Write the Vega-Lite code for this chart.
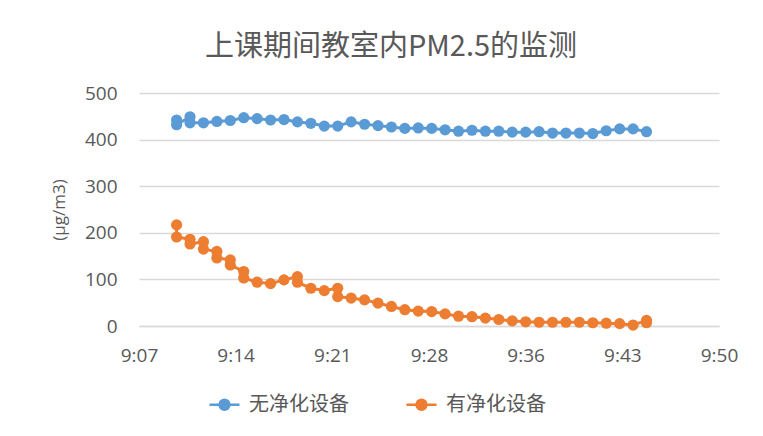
{
  "$schema": "https://vega.github.io/schema/vega-lite/v6.json",
  "width": 580,
  "height": 233,
  "autosize": {"type": "none"},
  "padding": {"left": 139, "top": 93, "right": 44, "bottom": 110},
  "background": "white",
  "title": {
    "text": "上课期间教室内PM2.5的监测",
    "font": "Noto Sans CJK SC",
    "fontSize": 29,
    "fontWeight": "normal",
    "color": "#595959",
    "anchor": "middle",
    "dx": -38,
    "offset": 22
  },
  "data": {
    "values": [
      {"i": 1, "s": "无净化设备", "t": "2020-01-01T09:10:00", "v": 442},
      {"i": 2, "s": "无净化设备", "t": "2020-01-01T09:10:00", "v": 432},
      {"i": 3, "s": "无净化设备", "t": "2020-01-01T09:11:00", "v": 449},
      {"i": 4, "s": "无净化设备", "t": "2020-01-01T09:11:00", "v": 436},
      {"i": 5, "s": "无净化设备", "t": "2020-01-01T09:12:00", "v": 436},
      {"i": 6, "s": "无净化设备", "t": "2020-01-01T09:13:00", "v": 439},
      {"i": 7, "s": "无净化设备", "t": "2020-01-01T09:14:00", "v": 441},
      {"i": 8, "s": "无净化设备", "t": "2020-01-01T09:15:00", "v": 447},
      {"i": 9, "s": "无净化设备", "t": "2020-01-01T09:16:00", "v": 445},
      {"i": 10, "s": "无净化设备", "t": "2020-01-01T09:17:00", "v": 442},
      {"i": 11, "s": "无净化设备", "t": "2020-01-01T09:18:00", "v": 443},
      {"i": 12, "s": "无净化设备", "t": "2020-01-01T09:19:00", "v": 438},
      {"i": 13, "s": "无净化设备", "t": "2020-01-01T09:20:00", "v": 435},
      {"i": 14, "s": "无净化设备", "t": "2020-01-01T09:21:00", "v": 429},
      {"i": 15, "s": "无净化设备", "t": "2020-01-01T09:22:00", "v": 429},
      {"i": 16, "s": "无净化设备", "t": "2020-01-01T09:23:00", "v": 438},
      {"i": 17, "s": "无净化设备", "t": "2020-01-01T09:24:00", "v": 433},
      {"i": 18, "s": "无净化设备", "t": "2020-01-01T09:25:00", "v": 430},
      {"i": 19, "s": "无净化设备", "t": "2020-01-01T09:26:00", "v": 427},
      {"i": 20, "s": "无净化设备", "t": "2020-01-01T09:27:00", "v": 424},
      {"i": 21, "s": "无净化设备", "t": "2020-01-01T09:28:00", "v": 425},
      {"i": 22, "s": "无净化设备", "t": "2020-01-01T09:29:00", "v": 424},
      {"i": 23, "s": "无净化设备", "t": "2020-01-01T09:30:00", "v": 421},
      {"i": 24, "s": "无净化设备", "t": "2020-01-01T09:31:00", "v": 418},
      {"i": 25, "s": "无净化设备", "t": "2020-01-01T09:32:00", "v": 420},
      {"i": 26, "s": "无净化设备", "t": "2020-01-01T09:33:00", "v": 418},
      {"i": 27, "s": "无净化设备", "t": "2020-01-01T09:34:00", "v": 418},
      {"i": 28, "s": "无净化设备", "t": "2020-01-01T09:35:00", "v": 416},
      {"i": 29, "s": "无净化设备", "t": "2020-01-01T09:36:00", "v": 416},
      {"i": 30, "s": "无净化设备", "t": "2020-01-01T09:37:00", "v": 417},
      {"i": 31, "s": "无净化设备", "t": "2020-01-01T09:38:00", "v": 414},
      {"i": 32, "s": "无净化设备", "t": "2020-01-01T09:39:00", "v": 414},
      {"i": 33, "s": "无净化设备", "t": "2020-01-01T09:40:00", "v": 414},
      {"i": 34, "s": "无净化设备", "t": "2020-01-01T09:41:00", "v": 413},
      {"i": 35, "s": "无净化设备", "t": "2020-01-01T09:42:00", "v": 419},
      {"i": 36, "s": "无净化设备", "t": "2020-01-01T09:43:00", "v": 423},
      {"i": 37, "s": "无净化设备", "t": "2020-01-01T09:44:00", "v": 423},
      {"i": 38, "s": "无净化设备", "t": "2020-01-01T09:45:00", "v": 417},
      {"i": 1, "s": "有净化设备", "t": "2020-01-01T09:10:00", "v": 217},
      {"i": 2, "s": "有净化设备", "t": "2020-01-01T09:10:00", "v": 191},
      {"i": 3, "s": "有净化设备", "t": "2020-01-01T09:11:00", "v": 186},
      {"i": 4, "s": "有净化设备", "t": "2020-01-01T09:11:00", "v": 176},
      {"i": 5, "s": "有净化设备", "t": "2020-01-01T09:12:00", "v": 181},
      {"i": 6, "s": "有净化设备", "t": "2020-01-01T09:12:00", "v": 165},
      {"i": 7, "s": "有净化设备", "t": "2020-01-01T09:13:00", "v": 160},
      {"i": 8, "s": "有净化设备", "t": "2020-01-01T09:13:00", "v": 146},
      {"i": 9, "s": "有净化设备", "t": "2020-01-01T09:14:00", "v": 142},
      {"i": 10, "s": "有净化设备", "t": "2020-01-01T09:14:00", "v": 131},
      {"i": 11, "s": "有净化设备", "t": "2020-01-01T09:15:00", "v": 117},
      {"i": 12, "s": "有净化设备", "t": "2020-01-01T09:15:00", "v": 103},
      {"i": 13, "s": "有净化设备", "t": "2020-01-01T09:16:00", "v": 94},
      {"i": 14, "s": "有净化设备", "t": "2020-01-01T09:17:00", "v": 91},
      {"i": 15, "s": "有净化设备", "t": "2020-01-01T09:18:00", "v": 99},
      {"i": 16, "s": "有净化设备", "t": "2020-01-01T09:19:00", "v": 106},
      {"i": 17, "s": "有净化设备", "t": "2020-01-01T09:19:00", "v": 94},
      {"i": 18, "s": "有净化设备", "t": "2020-01-01T09:20:00", "v": 81},
      {"i": 19, "s": "有净化设备", "t": "2020-01-01T09:21:00", "v": 76},
      {"i": 20, "s": "有净化设备", "t": "2020-01-01T09:22:00", "v": 81},
      {"i": 21, "s": "有净化设备", "t": "2020-01-01T09:22:00", "v": 63},
      {"i": 22, "s": "有净化设备", "t": "2020-01-01T09:23:00", "v": 60},
      {"i": 23, "s": "有净化设备", "t": "2020-01-01T09:24:00", "v": 56},
      {"i": 24, "s": "有净化设备", "t": "2020-01-01T09:25:00", "v": 49},
      {"i": 25, "s": "有净化设备", "t": "2020-01-01T09:26:00", "v": 42},
      {"i": 26, "s": "有净化设备", "t": "2020-01-01T09:27:00", "v": 35},
      {"i": 27, "s": "有净化设备", "t": "2020-01-01T09:28:00", "v": 32},
      {"i": 28, "s": "有净化设备", "t": "2020-01-01T09:29:00", "v": 31},
      {"i": 29, "s": "有净化设备", "t": "2020-01-01T09:30:00", "v": 26},
      {"i": 30, "s": "有净化设备", "t": "2020-01-01T09:31:00", "v": 21},
      {"i": 31, "s": "有净化设备", "t": "2020-01-01T09:32:00", "v": 20},
      {"i": 32, "s": "有净化设备", "t": "2020-01-01T09:33:00", "v": 17},
      {"i": 33, "s": "有净化设备", "t": "2020-01-01T09:34:00", "v": 14},
      {"i": 34, "s": "有净化设备", "t": "2020-01-01T09:35:00", "v": 11},
      {"i": 35, "s": "有净化设备", "t": "2020-01-01T09:36:00", "v": 9},
      {"i": 36, "s": "有净化设备", "t": "2020-01-01T09:37:00", "v": 8},
      {"i": 37, "s": "有净化设备", "t": "2020-01-01T09:38:00", "v": 8},
      {"i": 38, "s": "有净化设备", "t": "2020-01-01T09:39:00", "v": 8},
      {"i": 39, "s": "有净化设备", "t": "2020-01-01T09:40:00", "v": 8},
      {"i": 40, "s": "有净化设备", "t": "2020-01-01T09:41:00", "v": 7},
      {"i": 41, "s": "有净化设备", "t": "2020-01-01T09:42:00", "v": 6},
      {"i": 42, "s": "有净化设备", "t": "2020-01-01T09:43:00", "v": 5},
      {"i": 43, "s": "有净化设备", "t": "2020-01-01T09:44:00", "v": 2},
      {"i": 44, "s": "有净化设备", "t": "2020-01-01T09:45:00", "v": 12},
      {"i": 45, "s": "有净化设备", "t": "2020-01-01T09:45:00", "v": 7}
    ]
  },
  "encoding": {
    "x": {
      "field": "t",
      "type": "temporal",
      "scale": {
        "domain": [
          {"year": 2020, "month": 1, "date": 1, "hours": 9, "minutes": 7, "seconds": 12},
          {"year": 2020, "month": 1, "date": 1, "hours": 9, "minutes": 50, "seconds": 24}
        ]
      },
      "axis": {
        "title": null,
        "values": [
          {"year": 2020, "month": 1, "date": 1, "hours": 9, "minutes": 7, "seconds": 12},
          {"year": 2020, "month": 1, "date": 1, "hours": 9, "minutes": 14, "seconds": 24},
          {"year": 2020, "month": 1, "date": 1, "hours": 9, "minutes": 21, "seconds": 36},
          {"year": 2020, "month": 1, "date": 1, "hours": 9, "minutes": 28, "seconds": 48},
          {"year": 2020, "month": 1, "date": 1, "hours": 9, "minutes": 36, "seconds": 0},
          {"year": 2020, "month": 1, "date": 1, "hours": 9, "minutes": 43, "seconds": 12},
          {"year": 2020, "month": 1, "date": 1, "hours": 9, "minutes": 50, "seconds": 24}
        ],
        "format": "%-H:%M",
        "grid": false,
        "ticks": false,
        "domainColor": "#d9d9d9",
        "domainWidth": 1.5,
        "labelPadding": 20,
        "labelFlush": false,
        "labelOverlap": false
      }
    },
    "y": {
      "field": "v",
      "type": "quantitative",
      "scale": {"domain": [0, 500]},
      "axis": {
        "title": "(μg/m3)",
        "values": [0, 100, 200, 300, 400, 500],
        "grid": true,
        "gridColor": "#d9d9d9",
        "gridWidth": 1.5,
        "domain": false,
        "ticks": false,
        "labelPadding": 22,
        "titlePadding": 16,
        "titleFontWeight": "normal",
        "titleFontSize": 17,
        "titleFont": "Open Sans"
      }
    },
    "color": {
      "field": "s",
      "type": "nominal",
      "scale": {"domain": ["无净化设备", "有净化设备"], "range": ["#5B9BD5", "#ED7D31"]},
      "legend": {
        "title": null,
        "orient": "none",
        "direction": "horizontal",
        "legendX": 69,
        "legendY": 295,
        "symbolType": "M-1,0H1M0.33,0A0.33,0.33 0 1,1 -0.33,0A0.33,0.33 0 1,1 0.33,0Z",
        "symbolSize": 900,
        "symbolStrokeWidth": 2.5,
        "labelFont": "Noto Sans CJK SC",
        "labelFontSize": 20,
        "labelColor": "#595959",
        "columnPadding": 52,
        "labelOffset": 8,
        "encode": {
          "symbols": {"update": {"fill": {"scale": "color", "field": "value"}, "stroke": {"scale": "color", "field": "value"}}}
        }
      }
    },
    "order": {"field": "i", "type": "quantitative"}
  },
  "layer": [
    {"mark": {"type": "line", "strokeWidth": 3}},
    {"mark": {"type": "point", "filled": true, "size": 125, "opacity": 1}}
  ],
  "config": {
    "view": {"stroke": null},
    "axis": {
      "labelFont": "Open Sans",
      "labelFontSize": 19,
      "labelColor": "#595959",
      "titleColor": "#595959"
    }
  }
}
